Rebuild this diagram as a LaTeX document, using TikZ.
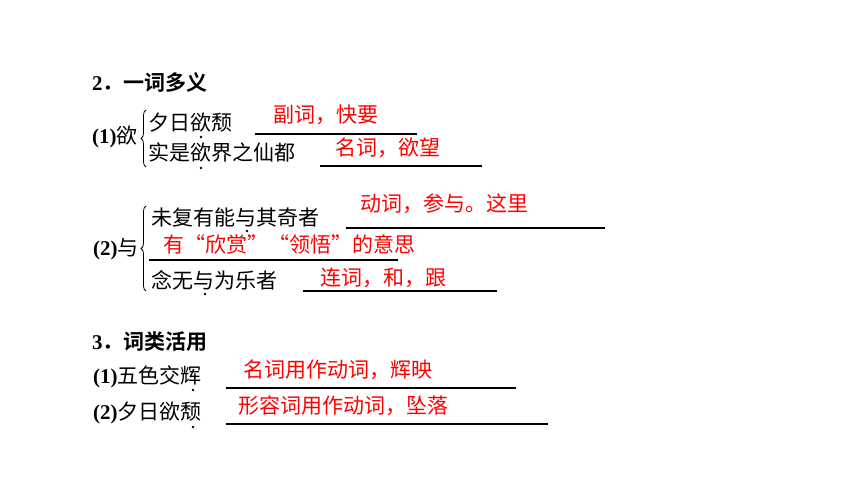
\documentclass[tikz,border=0pt]{standalone}
\usepackage{fontspec}
\setmainfont{Liberation Serif}
\newfontfamily\cjk{Noto Sans CJK SC}[BoldFont={Noto Sans CJK SC Bold}]
\newfontfamily\cjkq{Noto Sans CJK SC}[RawFeature=+fwid]
\usepackage{tikz}
\usetikzlibrary{decorations.pathreplacing}

\begin{document}
\begin{tikzpicture}[x=1pt,y=-1pt,
	txt/.style={anchor=west,inner sep=0pt,font=\fontsize{21}{25}\selectfont\cjk},
	head/.style={txt,font=\fontsize{21}{25}\selectfont\cjk\bfseries},
	ans/.style={txt,text=red},
	blank/.style={line width=1.2pt},
	emdot/.style={circle,fill=black,inner sep=0pt,minimum size=2.6pt},
	lbrace/.style={thick,decorate,decoration={brace,amplitude=5pt}}]
	\useasboundingbox (0,0) rectangle (860,484);
	% 2. heading
	\node[head] (h2) at (92,83) {{\rmfamily 2}．一词多义};
	\node[txt] (q1) at (92,137) {{\rmfamily\bfseries (1)}欲};
	\draw[lbrace] (146,167) -- (146,110);
	\node[txt] (a1) at (148,123) {夕日欲颓};
	\node[emdot] (d1) at (201,137) {};
	\node[ans] (r1) at (273,115) {副词，快要};
	\coordinate (u1a) at (255,134); \coordinate (u1b) at (417,134);
	\draw[blank] (u1a) -- (u1b);
	\node[txt] (a2) at (148,153) {实是欲界之仙都};
	\node[emdot] (d2) at (201,168) {};
	\node[ans] (r2) at (335,148) {名词，欲望};
	\coordinate (u2a) at (320,166); \coordinate (u2b) at (482,166);
	\draw[blank] (u2a) -- (u2b);
	% (2)
	\node[txt] (q2) at (93,249) {{\rmfamily\bfseries (2)}与};
	\draw[lbrace] (146,291) -- (146,206);
	\node[txt] (b1) at (151,217) {未复有能与其奇者};
	\node[emdot] (d3) at (247,231) {};
	\node[ans] (r3) at (360,204) {动词，参与。这里};
	\coordinate (u3a) at (346,228); \coordinate (u3b) at (605,228);
	\draw[blank] (u3a) -- (u3b);
	\node[ans,font=\fontsize{21}{25}\selectfont\cjkq] (r4) at (163,244) {有“欣赏”“领悟”的意思};
	\coordinate (u4a) at (149,260); \coordinate (u4b) at (398,260);
	\draw[blank] (u4a) -- (u4b);
	\node[txt] (b2) at (151,280) {念无与为乐者};
	\node[emdot] (d4) at (205,294) {};
	\node[ans] (r5) at (320,278) {连词，和，跟};
	\coordinate (u5a) at (303,291); \coordinate (u5b) at (497,291);
	\draw[blank] (u5a) -- (u5b);
	% 3. heading
	\node[head] (h3) at (92,342) {{\rmfamily 3}．词类活用};
	\node[txt] (c1) at (93,377) {{\rmfamily\bfseries (1)}五色交辉};
	\node[emdot] (d5) at (193,390) {};
	\node[ans] (r6) at (243,370) {名词用作动词，辉映};
	\coordinate (u6a) at (226,388); \coordinate (u6b) at (516,388);
	\draw[blank] (u6a) -- (u6b);
	\node[txt] (c2) at (93,413) {{\rmfamily\bfseries (2)}夕日欲颓};
	\node[emdot] (d6) at (193,427) {};
	\node[ans] (r7) at (238,406) {形容词用作动词，坠落};
	\coordinate (u7a) at (226,424); \coordinate (u7b) at (548,424);
	\draw[blank] (u7a) -- (u7b);
\end{tikzpicture}
\end{document}
